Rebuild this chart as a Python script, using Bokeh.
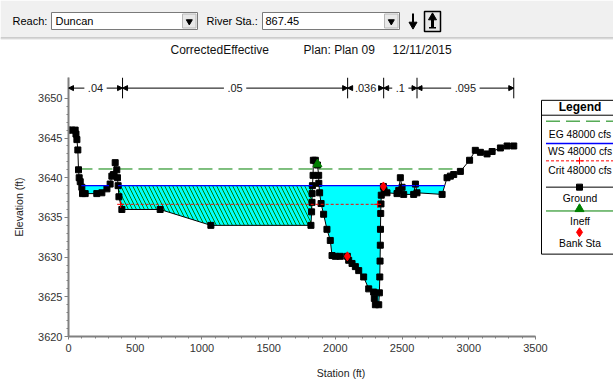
import numpy as np
from bokeh.plotting import figure
from bokeh.models import Range1d, FixedTicker, Arrow, NormalHead
from bokeh.layouts import column
from bokeh.core.properties import value
from bokeh.embed import file_html
from bokeh.resources import INLINE

# ---------------- data ----------------
ground_sta = [0, 25, 50, 56, 63, 70, 75, 80, 88, 100,
              105, 125, 212, 250, 288, 312, 325, 337, 350, 362,
              367, 372, 378, 400, 687, 1067, 1817, 1822, 1825, 1826,
              1828, 1833, 1835, 1850, 1866, 1875, 1876, 1882, 1893, 1912,
              1937, 1962, 1975, 2000, 2037, 2090, 2100, 2125, 2150, 2175,
              2212, 2250, 2287, 2292, 2300, 2325, 2330, 2333, 2335, 2337,
              2338, 2340, 2342, 2344, 2360, 2365, 2387, 2462, 2475, 2487,
              2500, 2512, 2587, 2600, 2612, 2800, 2837, 2862, 2887, 2937,
              3006, 3049, 3087, 3137, 3175, 3237, 3287, 3337]
ground_elev = [3646.0, 3646.0, 3646.0, 3645.5, 3644.8, 3643.5, 3641.0, 3640.0, 3639.5, 3638.8,
               3638.0, 3638.0, 3638.0, 3638.1, 3638.6, 3639.2, 3640.2, 3640.4, 3641.9, 3641.0,
               3640.0, 3639.0, 3637.6, 3636.0, 3636.0, 3634.0, 3634.0, 3635.7, 3636.9, 3638.0,
               3639.0, 3640.3, 3642.2, 3642.2, 3641.6, 3640.3, 3639.3, 3638.1, 3636.75, 3635.4,
               3633.5, 3632.1, 3630.2, 3630.1, 3630.1, 3630.1, 3629.6, 3629.2, 3628.8, 3628.3,
               3627.5, 3626.0, 3625.6, 3624.8, 3624.0, 3624.0, 3625.5, 3627.5, 3629.5, 3631.5,
               3633.5, 3635.5, 3636.7, 3637.8, 3638.9, 3638.4, 3638.1, 3638.0, 3638.4, 3640.0,
               3638.8, 3637.9, 3637.9, 3639.2, 3638.1, 3637.9, 3640.0, 3640.2, 3640.4, 3640.8,
               3642.2, 3643.45, 3643.2, 3643.0, 3643.3, 3643.75, 3644.0, 3644.0]
bank_sta = [2090, 2360]
ineff_sta = [1866]
ineff_elev = [3641.7]
ineff_left = 362
ws_elev = 3639.0
eg_elev = 3641.1
crit_elev = 3636.65
n_breaks = [0, 405, 2092, 2362, 2612, 3337]
n_values = [0.04, 0.05, 0.036, 0.1, 0.095]
x_ticks = list(range(0, 3501, 500))
x_minor = list(range(0, 3501, 100))
y_ticks = list(range(3620, 3651, 5))
y_minor = list(range(3620, 3651, 1))
title_parts = ["CorrectedEffective", "Plan: Plan 09", "12/11/2015"]
reach_name = "Duncan"
river_station = "867.45"
flow_label = "48000 cfs"

FONT = value("Liberation Sans")
HEADER_H = 70

# ---------------- helpers ----------------
X0, KX = 68.0, 467.0 / 3500.0
Y0, KY = 338.0, 8.0


def dx(px):
    return (px - X0) / KX


def dy(py):
    return 3620 + (Y0 - py) / KY


def wet_polys(sta, elev, ws):
    polys, cur = [], None
    for i in range(len(sta)):
        x, z = sta[i], elev[i]
        wet = z < ws
        if i > 0:
            x0, z0 = sta[i - 1], elev[i - 1]
            pwet = z0 < ws
            if pwet != wet:
                xc = x0 + (ws - z0) * (x - x0) / (z - z0)
                if wet:
                    cur = [(xc, ws)]
                else:
                    cur.append((xc, ws))
                    polys.append(cur)
                    cur = None
        elif wet:
            cur = [(x, ws)]
        if wet:
            cur.append((x, z))
    if cur:
        cur.append((cur[-1][0], ws))
        polys.append(cur)
    return polys


def crossings(sta, elev, level):
    out = []
    for i in range(1, len(sta)):
        z0, z1 = elev[i - 1], elev[i]
        if (z0 - level) * (z1 - level) < 0:
            out.append(sta[i - 1] + (level - z0) * (sta[i] - sta[i - 1]) / (z1 - z0))
    return out


def no_align(fig):
    if "frame_align" in fig.properties():
        fig.frame_align = False


# ---------------- header ----------------
h = figure(width=613, height=HEADER_H, x_range=Range1d(0, 613), y_range=Range1d(HEADER_H, 0),
           toolbar_location=None, output_backend="svg", x_axis_type=None, y_axis_type=None,
           min_border=0, min_border_left=0, min_border_right=0, min_border_top=0,
           min_border_bottom=0)
no_align(h)
h.outline_line_color = None
h.grid.visible = False
h.quad(left=0, right=613, top=0, bottom=37, fill_color="#f0f0f0", line_color=None)
h.segment(x0=0, x1=613, y0=37.5, y1=37.5, line_color="#a0a0a0", line_width=1)
h.segment(x0=0, x1=613, y0=38.5, y1=38.5, line_color="#e0e0e0", line_width=1)
for l, r in [(51, 197), (262, 399)]:
    h.quad(left=l, right=r, top=12, bottom=29, fill_color="white", line_color="#7a7a7a")
    h.quad(left=r - 15, right=r - 1.5, top=13.5, bottom=27.5, fill_color="#e8e8e8",
           line_color="#b8b8b8")
    h.scatter(x=[r - 8.2], y=[21], marker="inverted_triangle", size=6, color="black")
h.text(x=[12, 55, 206, 265], y=[20.5] * 4,
       text=["Reach:", reach_name, "River Sta.:", river_station],
       text_font=FONT, text_font_size="11px", text_color="black",
       text_align="left", text_baseline="middle")
# down-arrow button
h.quad(left=411.5, right=413.5, top=13, bottom=22, fill_color="black", line_color=None)
h.scatter(x=[412.5], y=[24], marker="inverted_triangle", size=8, color="black")
# up-arrow button
h.quad(left=424, right=440, top=11, bottom=31, fill_color="#e8e8e8", line_color="black",
       line_width=1.5)
h.scatter(x=[432], y=[17], marker="triangle", size=8, color="black")
h.quad(left=430.5, right=433.5, top=18, bottom=27, fill_color="black", line_color=None)
h.quad(left=428.5, right=435.5, top=26.5, bottom=28, fill_color="black", line_color=None)
# title
h.text(x=[170, 303, 392], y=[49, 49, 49], text=title_parts,
       text_font=FONT, text_font_size="12px", text_color="#111111",
       text_align="left", text_baseline="middle")

# ---------------- main plot ----------------
p = figure(width=613, height=381 - HEADER_H,
           x_range=Range1d(0, dx(613)), y_range=Range1d(3620, dy(77)),
           toolbar_location=None, output_backend="svg",
           min_border_left=68, min_border_right=0, min_border_top=77 - HEADER_H,
           min_border_bottom=43)
no_align(p)
p.outline_line_color = None
p.grid.visible = False
p.background_fill_color = "white"

for ax in (p.xaxis, p.yaxis):
    ax.axis_line_color = "#808080"
    ax.axis_line_width = 2
    ax.major_tick_line_color = "#808080"
    ax.minor_tick_line_color = "#808080"
    ax.major_tick_in = 0
    ax.minor_tick_in = 0
    ax.major_label_text_font = "Liberation Sans"
    ax.major_label_text_font_size = "11px"
    ax.major_label_text_color = "#333333"
    ax.axis_label_text_font = "Liberation Sans"
    ax.axis_label_text_font_size = "10.5px"
    ax.axis_label_text_font_style = "normal"
    ax.axis_label_text_color = "#222222"

p.xaxis.ticker = FixedTicker(ticks=x_ticks, minor_ticks=x_minor)
p.xaxis.bounds = (0, 3500)
p.xaxis.major_tick_out = 3
p.xaxis.minor_tick_out = 2
p.xaxis.major_label_standoff = 4
p.xaxis.axis_label = "Station (ft)"
p.xaxis.axis_label_standoff = 12

p.yaxis.ticker = FixedTicker(ticks=y_ticks, minor_ticks=y_minor)
p.yaxis.major_tick_out = 4
p.yaxis.minor_tick_out = 2
p.yaxis.major_label_standoff = 2
p.yaxis.axis_label = "Elevation (ft)"
p.yaxis.axis_label_standoff = 10

# water
polys = wet_polys(ground_sta, ground_elev, ws_elev)
for poly in polys:
    xs = [q[0] for q in poly]
    ys = [q[1] for q in poly]
    cx = 0.5 * (xs[0] + xs[-1])
    if ineff_left < cx < ineff_sta[0]:
        p.patch(xs, ys, fill_color="#00ffff", line_color=None,
                hatch_pattern="\\", hatch_color="#008000", hatch_scale=8, hatch_weight=1)
    else:
        p.patch(xs, ys, fill_color="#00ffff", line_color=None)

# EG
eg_x = crossings(ground_sta, ground_elev, eg_elev)
p.line([min(eg_x), max(eg_x)], [eg_elev, eg_elev], line_color="#008000", line_width=1,
       line_dash="14 6")

# ground
p.line(ground_sta, ground_elev, line_color="black", line_width=1)
p.scatter(ground_sta, ground_elev, marker="square", size=6, color="black")

# WS segments
p.multi_line([[pl[0][0], pl[-1][0]] for pl in polys], [[ws_elev, ws_elev] for pl in polys],
             line_color="#0000ff", line_width=1.3)

# crit
cr_x = crossings(ground_sta, ground_elev, crit_elev)
p.line([min(cr_x), max(cr_x)], [crit_elev, crit_elev], line_color="#ff0000", line_width=1,
       line_dash="3 2")
p.scatter([min(cr_x), max(cr_x) - 25], [crit_elev, crit_elev], marker="cross", size=7,
          line_color="#ff0000", line_width=1)

# bank stations
p.scatter(bank_sta, list(np.interp(bank_sta, ground_sta, ground_elev)), marker="diamond",
          size=9, color="#ff0000")

# ineffective
p.scatter(ineff_sta, ineff_elev, marker="triangle", size=9, color="#008000")

# Manning's n bar
n_y = dy(87.7)
p.segment(x0=n_breaks, x1=n_breaks, y0=[dy(98)] * len(n_breaks), y1=[dy(77)] * len(n_breaks),
          line_color="black", line_width=1)
char_w = {".": 3.06}
labels, centers = [], []
for i, nv in enumerate(n_values):
    a, b = n_breaks[i], n_breaks[i + 1]
    c = 0.5 * (a + b)
    lab = ("%g" % nv).lstrip("0")
    w = sum(char_w.get(ch, 6.12) for ch in lab)
    half = (w / 2 + 3.5) / KX
    for xs_, xe_ in [(c - half, a), (c + half, b)]:
        p.add_layout(Arrow(end=NormalHead(size=5, fill_color="black", line_color="black"),
                           x_start=xs_, y_start=n_y, x_end=xe_, y_end=n_y,
                           line_color="black", line_width=1))
    labels.append(lab)
    centers.append(c)
p.text(x=centers, y=[n_y] * len(centers), text=labels, text_font=FONT, text_font_size="11px",
       text_color="#202020", text_align="center", text_baseline="middle")

# ---------------- legend (drawn) ----------------
lx0, lx1 = dx(541), dx(625)
lc = dx(579.5)
p.quad(left=lx0, right=lx1, top=dy(100), bottom=dy(255), fill_color="white", line_color="black",
       line_width=1)
p.segment(x0=lx0, x1=lx1, y0=dy(115), y1=dy(115), line_color="black", line_width=1)
p.text(x=[lc], y=[dy(106.5)], text=["Legend"], text_font=FONT, text_font_size="12px",
       text_font_style="bold", text_color="black", text_align="center", text_baseline="middle")
ll0, ll1 = dx(545.5), dx(625)
p.line([ll0, ll1], [dy(121)] * 2, line_color="#008000", line_dash="14 6", line_width=1)
p.line([ll0, ll1], [dy(143.5)] * 2, line_color="#0000ff", line_width=1.3)
p.line([ll0, ll1], [dy(161)] * 2, line_color="#ff0000", line_dash="3 2", line_width=1)
p.scatter([dx(579)], [dy(161)], marker="cross", size=7, line_color="#ff0000")
p.line([ll0, ll1], [dy(187.5)] * 2, line_color="black", line_width=1)
p.scatter([dx(579)], [dy(187.5)], marker="square", size=6, color="black")
p.line([ll0, ll1], [dy(211.5)] * 2, line_color="#008000", line_width=1)
p.scatter([dx(579)], [dy(209.5)], marker="triangle", size=9, color="#008000")
p.scatter([dx(579)], [dy(233)], marker="diamond", size=9, color="#ff0000")
p.text(x=[lc] * 6, y=[dy(134), dy(152), dy(171), dy(199), dy(222), dy(244)],
       text=["EG " + flow_label, "WS " + flow_label, "Crit " + flow_label,
             "Ground", "Ineff", "Bank Sta"],
       text_font=FONT, text_font_size="10.3px", text_color="black",
       text_align="center", text_baseline="middle")

layout = column(h, p, spacing=0)
open("out.html", "w").write(file_html(layout, INLINE))
